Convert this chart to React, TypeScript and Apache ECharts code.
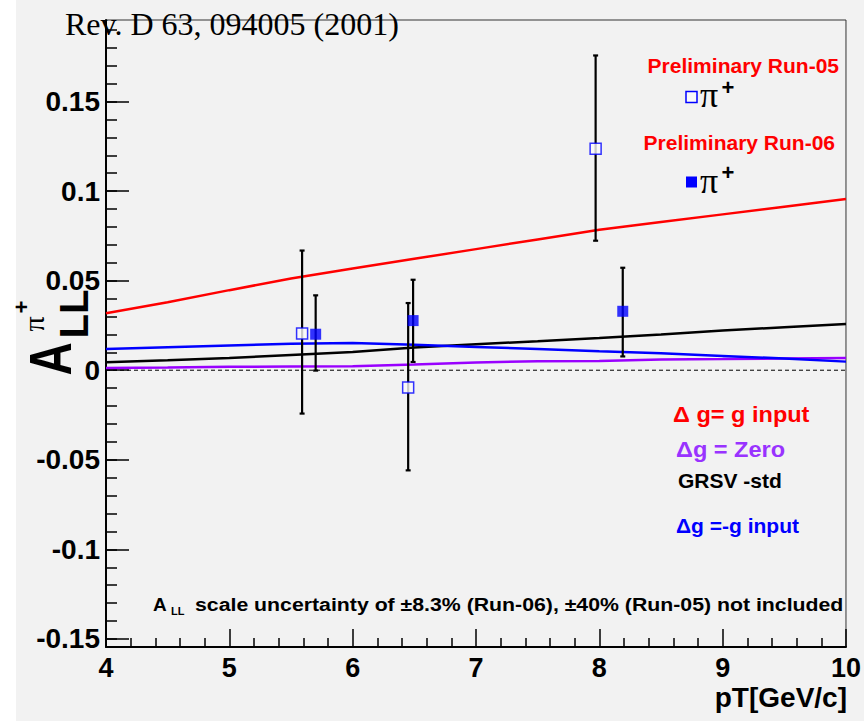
import React, { useEffect, useRef } from 'react';
import * as echarts from 'echarts';

// ---- data ----
const run05Pt = [5.59, 6.45, 7.97];
const run05Asym = [0.0205, -0.0097, 0.1236];
const run05Low = [-0.0242, -0.0559, 0.0723];
const run05High = [0.0668, 0.0375, 0.1757];

const run06Pt = [5.7, 6.49, 8.19];
const run06Asym = [0.0201, 0.0277, 0.0329];
const run06Low = [-0.0002, 0.0046, 0.0077];
const run06High = [0.0418, 0.0505, 0.0572];

const theoryPt = [4, 4.5, 5, 5.5, 6, 6.5, 7, 7.5, 8, 8.5, 9, 9.5, 10];
const gInput = [0.0318, 0.038, 0.0447, 0.0512, 0.0568, 0.0622, 0.0676, 0.073, 0.0784, 0.0827, 0.087, 0.0913, 0.0956];
const zeroG = [0.0012, 0.0015, 0.0019, 0.0021, 0.0022, 0.0032, 0.0043, 0.005, 0.0051, 0.006, 0.0062, 0.0065, 0.0068];
const grsvStd = [0.0045, 0.0055, 0.0068, 0.0085, 0.0102, 0.0127, 0.0145, 0.0162, 0.018, 0.02, 0.0222, 0.024, 0.0258];
const minusG = [0.0118, 0.0128, 0.0138, 0.0148, 0.0152, 0.0142, 0.013, 0.0118, 0.0106, 0.0095, 0.008, 0.0065, 0.0048];

const zeroLineX = [4, 10];
const zeroLineY = [0, 0];

const xTicks = [4, 5, 6, 7, 8, 9, 10];
const yTicks = [-0.15, -0.1, -0.05, 0, 0.05, 0.1, 0.15];
const yMinorTicks = [
  -0.15, -0.14, -0.13, -0.12, -0.11, -0.1, -0.09, -0.08, -0.07, -0.06, -0.05, -0.04, -0.03, -0.02, -0.01,
  0, 0.01, 0.02, 0.03, 0.04, 0.05, 0.06, 0.07, 0.08, 0.09, 0.1, 0.11, 0.12, 0.13, 0.14, 0.15, 0.16, 0.17, 0.18, 0.19,
];

const SANS = '"Liberation Sans", Arial, Helvetica, sans-serif';
const SERIF = '"Liberation Serif", "Times New Roman", serif';

const Y_MIN = -0.1545;
const Y_MAX = 0.1955;

function errorBarSeries(xs: number[], lows: number[], highs: number[]) {
  return {
    type: 'custom',
    silent: true,
    z: 5,
    data: xs.map((x, i) => [x, lows[i], highs[i]]),
    renderItem: (params: any, api: any) => {
      const x = api.value(0);
      const top = api.coord([x, api.value(2)]);
      const bot = api.coord([x, api.value(1)]);
      const cap = 2.5;
      const st = { stroke: '#000', lineWidth: 2.2 };
      return {
        type: 'group',
        children: [
          { type: 'line', shape: { x1: top[0], y1: top[1], x2: bot[0], y2: bot[1] }, style: st },
          { type: 'line', shape: { x1: top[0] - cap, y1: top[1], x2: top[0] + cap, y2: top[1] }, style: st },
          { type: 'line', shape: { x1: bot[0] - cap, y1: bot[1], x2: bot[0] + cap, y2: bot[1] }, style: st },
        ],
      };
    },
  };
}

function lineSeries(ys: number[], color: string) {
  return {
    type: 'line',
    silent: true,
    symbol: 'none',
    z: 3,
    lineStyle: { color, width: 2.5 },
    data: theoryPt.map((x, i) => [x, ys[i]]),
  };
}

function txt(
  text: string,
  x: number,
  y: number,
  opts: { size: number; color?: string; weight?: string; family?: string; align?: string; rotation?: number; scaleX?: number; scaleY?: number }
) {
  const align = opts.align || 'left';
  return {
    type: 'text',
    x,
    y,
    z: 100,
    rotation: opts.rotation || 0,
    scaleX: opts.scaleX || 1,
    scaleY: opts.scaleY || 1,
    silent: true,
    style: {
      text,
      fontSize: opts.size,
      fontWeight: opts.weight || 'bold',
      fontFamily: opts.family || SANS,
      fill: opts.color || '#000',
      align,
      textAlign: align,
      verticalAlign: 'middle',
      textVerticalAlign: 'middle',
    },
  };
}

const fmt = (v: number) => String(Math.round(v * 1000) / 1000);

const option: any = {
  animation: false,
  backgroundColor: '#f2f2f2',
  grid: { left: 106, right: 17, top: 20, bottom: 74, show: true, borderColor: '#333', borderWidth: 1 },
  xAxis: {
    type: 'value',
    min: 4,
    max: 10,
    interval: 1,
    axisLine: { show: true, onZero: false, lineStyle: { color: '#000', width: 2 } },
    axisTick: { show: true, inside: true, length: 18, customValues: xTicks, lineStyle: { color: '#000', width: 1.5 } },
    minorTick: { show: true, splitNumber: 5, length: 9, lineStyle: { color: '#000', width: 1.5 } },
    splitLine: { show: false },
    minorSplitLine: { show: false },
    axisLabel: {
      customValues: xTicks,
      margin: 7,
      fontSize: 27,
      fontWeight: 'bold',
      fontFamily: SANS,
      color: '#000',
      formatter: fmt,
    },
  },
  yAxis: [
    {
      type: 'value',
      min: Y_MIN,
      max: Y_MAX,
      axisLine: { show: true, onZero: false, lineStyle: { color: '#000', width: 2 } },
      axisTick: { show: true, inside: true, length: 23, customValues: yTicks, lineStyle: { color: '#000', width: 1.5 } },
      splitLine: { show: false },
      axisLabel: {
        customValues: yTicks,
        margin: 6,
        fontSize: 28,
        fontWeight: 'bold',
        fontFamily: SANS,
        color: '#000',
        formatter: fmt,
      },
    },
    {
      type: 'value',
      min: Y_MIN,
      max: Y_MAX,
      position: 'left',
      axisLine: { show: false },
      axisTick: { show: true, inside: true, length: 11, customValues: yMinorTicks, lineStyle: { color: '#000', width: 1.5 } },
      splitLine: { show: false },
      axisLabel: { show: false },
    },
  ],
  series: [
    lineSeries(gInput, '#ff0000'),
    lineSeries(zeroG, '#9900ff'),
    lineSeries(grsvStd, '#000000'),
    lineSeries(minusG, '#0000ff'),
    {
      type: 'line',
      silent: true,
      symbol: 'none',
      z: 2,
      lineStyle: { color: '#000', width: 1, type: [4, 3] },
      data: zeroLineX.map((x, i) => [x, zeroLineY[i]]),
    },
    errorBarSeries(run05Pt, run05Low, run05High),
    errorBarSeries(run06Pt, run06Low, run06High),
    {
      type: 'scatter',
      silent: true,
      z: 6,
      symbol: 'rect',
      symbolSize: 11,
      itemStyle: { color: '#fafafa', borderColor: '#0000ff', borderWidth: 1.5 },
      data: run05Pt.map((x, i) => [x, run05Asym[i]]),
    },
    {
      type: 'scatter',
      silent: true,
      z: 6,
      symbol: 'rect',
      symbolSize: 11,
      itemStyle: { color: '#0000ff' },
      data: run06Pt.map((x, i) => [x, run06Asym[i]]),
    },
  ],
  graphic: [
    { type: 'rect', z: -1, silent: true, shape: { x: 0, y: 0, width: 16, height: 721 }, style: { fill: '#ffffff' } },
    txt('Rev. D 63, 094005 (2001)', 65, 24, { size: 32, weight: 'normal', family: SERIF }),
    // y-axis title  A_LL^{pi+}
    txt('A', 50, 359, { size: 46, rotation: Math.PI / 2, align: 'center', scaleY: 1.3 }),
    txt('LL', 74, 314, { size: 40, rotation: Math.PI / 2, align: 'center' }),
    txt('π', 33, 324, { size: 30, weight: 'normal', family: SERIF, rotation: Math.PI / 2, align: 'center' }),
    txt('+', 21, 307, { size: 22, rotation: Math.PI / 2, align: 'center' }),
    // legend upper
    txt('Preliminary Run-05', 839, 65, { size: 21, color: '#ff0000', align: 'right' }),
    { type: 'rect', z: 100, silent: true, shape: { x: 686, y: 91.5, width: 11, height: 11 }, style: { fill: '#fafafa', stroke: '#0000ff', lineWidth: 1.5 } },
    txt('π', 700, 95, { size: 36, weight: 'normal', family: SERIF }),
    txt('+', 728, 87, { size: 22, align: 'center' }),
    txt('Preliminary Run-06', 835, 142, { size: 21, color: '#ff0000', align: 'right' }),
    { type: 'rect', z: 100, silent: true, shape: { x: 686, y: 176.5, width: 11, height: 11 }, style: { fill: '#0000ff' } },
    txt('π', 700, 181, { size: 36, weight: 'normal', family: SERIF }),
    txt('+', 728, 172, { size: 22, align: 'center' }),
    // legend lower
    txt('Δ g= g input', 673, 414, { size: 22, color: '#ff0000', scaleX: 1.07 }),
    txt('Δg = Zero', 676, 449, { size: 22, color: '#9933ff', scaleX: 1.07 }),
    txt('GRSV -std', 678, 480, { size: 21 }),
    txt('Δg =-g input', 676, 525, { size: 21 }),
    // note
    txt('A', 153, 604.5, { size: 19 }),
    txt('LL', 171, 611, { size: 11 }),
    txt('scale uncertainty of ±8.3% (Run-06), ±40% (Run-05) not included', 195, 604.5, { size: 19, scaleX: 1.12 }),
    // x title
    txt('pT[GeV/c]', 847, 697, { size: 28, align: 'right' }),
  ],
};

// blue colour for the last lower legend entry
(option.graphic[option.graphic.length - 5] as any).style.fill = '#0000ff';

export default function App() {
  const ref = useRef<HTMLDivElement>(null);
  useEffect(() => {
    const chart = echarts.init(ref.current!, null, { renderer: 'svg' });
    chart.setOption(option);
    return () => chart.dispose();
  }, []);
  return <div ref={ref} style={{ position: 'absolute', left: 0, top: 0, width: 864, height: 721 }} />;
}
